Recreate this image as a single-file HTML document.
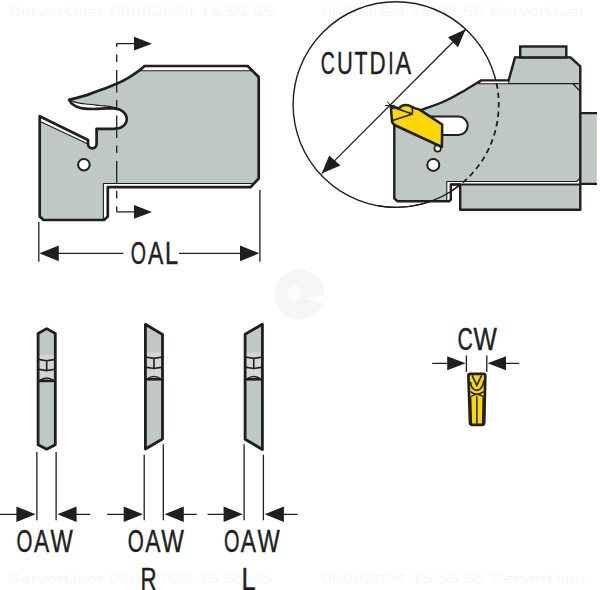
<!DOCTYPE html>
<html><head><meta charset="utf-8"><style>
html,body{margin:0;padding:0;background:#fff;width:600px;height:590px;overflow:hidden}
svg{display:block}
text{font-family:"Liberation Sans",sans-serif;fill:#1f1f1f;stroke:#1f1f1f;stroke-width:0.45px}
</style></head><body>
<svg width="600" height="590" viewBox="0 0 600 590">
<g fill="#f4f4f4" stroke="none">
<text x="8" y="15.5" font-size="13" textLength="266" lengthAdjust="spacingAndGlyphs" style="stroke:none;fill:#f7f7f7">ServerUser 06082024 15:55:55</text>
<text x="321" y="15.5" font-size="13" textLength="264" lengthAdjust="spacingAndGlyphs" style="stroke:none;fill:#f7f7f7">06082024 15:55:55 ServerUser</text>
<text x="8" y="583" font-size="13" textLength="264" lengthAdjust="spacingAndGlyphs" style="stroke:none;fill:#f7f7f7">ServerUser 06082024 15:55:55</text>
<text x="321" y="583" font-size="13" textLength="266" lengthAdjust="spacingAndGlyphs" style="stroke:none;fill:#f7f7f7">06082024 15:55:55 ServerUser</text>
<path d="M324.5,295.4 A25,25 0 1 0 323.0,303.1 L305.5,298.5 Z" fill="#f6f6f6"/><ellipse cx="294.5" cy="292.5" rx="6" ry="8" fill="#fbfbfb"/>
</g>

<path d="M144.3,66 L247.7,66 L258.7,77 L258.7,178.5 L250.5,187.2 L107.8,187.2 L107.8,216.5 L104,220 L43.6,220 L39.7,216.4 L39.7,116.2 L88,140 L88,144.1 A4.3,4.3 0 0 0 96.6,144.1 L96.6,128.8 L114,128.8 C115.1,128.6 118.6,128.5 120.4,127.7 C122.2,126.9 124.0,125.8 125.1,124.2 C126.2,122.6 126.9,120.2 126.8,118.3 C126.7,116.4 125.7,114.5 124.5,113.1 C123.3,111.6 121.5,110.4 119.8,109.6 C118.0,108.8 115.0,108.6 114.0,108.4 C112.6,108.4 109.1,108.3 105.8,108.4 C102.5,108.5 98.1,109.0 94.2,109.0 C90.3,109.0 85.4,108.8 82.5,108.4 C79.6,108.0 78.5,107.5 76.7,106.7 C75.0,105.9 73.3,104.9 72.0,103.8 C70.7,102.6 69.6,100.5 69.1,99.9 C70.2,99.6 73.1,98.9 76.0,98.1 C78.9,97.3 82.2,96.6 86.7,95.1 C91.2,93.6 98.3,90.9 103.3,89.0 C108.3,87.1 112.5,85.7 116.7,83.8 C120.9,81.9 125.0,79.8 128.7,77.6 C132.4,75.4 136.1,72.8 138.7,70.9 C141.3,69.0 143.4,67.0 144.3,66.2 Z" fill="#fff" stroke="none"/>
<path d="M138.7,70.8 L252.5,70.8 L258.7,77 L258.7,178.5 L254,183.5 L103.4,183.5 L103.4,218 L102,220.5 L43.6,220.5 L39.7,216.4 L39.7,121.2 L86.9,143.5 L88,144 L88,144.1 A4.3,4.3 0 0 0 96.6,144.1 L96.6,128.8 L114,128.8 C115.1,128.6 118.6,128.5 120.4,127.7 C122.2,126.9 124.0,125.8 125.1,124.2 C126.2,122.6 126.9,120.2 126.8,118.3 C126.7,116.4 125.7,114.5 124.5,113.1 C123.3,111.6 121.2,110.5 119.8,109.6 C118.4,108.7 116.9,108.1 116.3,107.8 C115.5,107.6 114.4,107.1 111.7,106.7 C109.0,106.3 103.9,105.9 100.0,105.5 C96.1,105.1 92.2,104.8 88.3,104.3 C84.4,103.8 79.8,103.3 76.7,102.6 C73.6,101.9 70.9,100.7 69.7,100.3 C70.8,99.9 73.2,99.0 76.0,98.1 C78.8,97.2 82.2,96.6 86.7,95.1 C91.2,93.6 98.3,90.9 103.3,89.0 C108.3,87.1 112.5,85.7 116.7,83.8 C120.9,81.9 125.0,79.8 128.7,77.6 C132.4,75.4 137.0,72.0 138.7,70.9 Z" fill="#bfc8c3" stroke="#1f1f1f" stroke-width="1.1" stroke-linejoin="round"/>
<path d="M144.3,66 L247.7,66 L258.7,77 L258.7,178.5 L250.5,187.2 L107.8,187.2 L107.8,216.5 L104,220 L43.6,220 L39.7,216.4 L39.7,116.2 L88,140 L88,144.1 A4.3,4.3 0 0 0 96.6,144.1 L96.6,128.8 L114,128.8 C115.1,128.6 118.6,128.5 120.4,127.7 C122.2,126.9 124.0,125.8 125.1,124.2 C126.2,122.6 126.9,120.2 126.8,118.3 C126.7,116.4 125.7,114.5 124.5,113.1 C123.3,111.6 121.5,110.4 119.8,109.6 C118.0,108.8 115.0,108.6 114.0,108.4 C112.6,108.4 109.1,108.3 105.8,108.4 C102.5,108.5 98.1,109.0 94.2,109.0 C90.3,109.0 85.4,108.8 82.5,108.4 C79.6,108.0 78.5,107.5 76.7,106.7 C75.0,105.9 73.3,104.9 72.0,103.8 C70.7,102.6 69.6,100.5 69.1,99.9 C70.2,99.6 73.1,98.9 76.0,98.1 C78.9,97.3 82.2,96.6 86.7,95.1 C91.2,93.6 98.3,90.9 103.3,89.0 C108.3,87.1 112.5,85.7 116.7,83.8 C120.9,81.9 125.0,79.8 128.7,77.6 C132.4,75.4 136.1,72.8 138.7,70.9 C141.3,69.0 143.4,67.0 144.3,66.2 Z" fill="none" stroke="#1f1f1f" stroke-width="2.7" stroke-linejoin="round"/>
<circle cx="83.9" cy="164.7" r="5.8" fill="#fff" stroke="#1f1f1f" stroke-width="2"/>
<path d="M116.7,43.6 V211.9" stroke="#1f1f1f" stroke-width="1.3" fill="none" stroke-dasharray="22.5 7.5 7.5 8" stroke-dashoffset="19"/>
<path d="M116.7,43.6 H136 M116.7,211.9 H136" stroke="#1f1f1f" stroke-width="1.3"/>
<path d="M134,36.8 L152,43.7 L134,50.6 Z M134,204.9 L152,211.9 L134,218.8 Z" fill="#1f1f1f"/>


<path d="M38.8,222 V261.7 M259.9,190 V261.7 M58,253.3 H123.2 M179,253.3 H241" stroke="#1f1f1f" stroke-width="1.3"/>
<path d="M39.4,253.3 L58.8,245.4 L58.8,261.3 Z M259.4,253.3 L240,245.4 L240,261.3 Z" fill="#1f1f1f"/>


<circle cx="395.9" cy="104.6" r="102.8" fill="none" stroke="#1f1f1f" stroke-width="1.4"/>
<path d="M392,121 L419.7,110.6 C423.9,109.0 437.4,104.4 445.0,101.0 C452.6,97.6 458.9,93.6 465.0,90.2 C471.1,86.8 478.6,82.0 481.3,80.4 L508.7,80.3 L515,57.4 L570.5,57.4 L580.3,66.4 L580.3,209.7 L460.2,209.7 L460.2,184.5 L450.8,184.5 L450.8,199.7 L449.2,201.3 L397.5,201.3 L394.3,198.3 L394.3,125 Z" fill="#fff"/>
<path d="M392,121 L419.7,110.6 C423.9,109.0 437.4,104.4 445.0,101.0 C452.6,97.6 458.9,93.6 465.0,90.2 C471.1,86.8 478.6,82.0 481.3,80.4 L478.7,83.7 L508.7,83.7 L508.7,80.3 L515,57.4 L570.5,57.4 L580.3,66.4 L580.3,178 L576.5,181.5 L446.8,181.5 L446.8,201.3 L397.5,201.3 L394.3,198.3 L394.3,125 Z" fill="#bfc8c3" stroke="#1f1f1f" stroke-width="1.1" stroke-linejoin="round"/>
<rect x="460.2" y="184.5" width="120.1" height="25.2" fill="#bfc8c3"/>
<rect x="580.3" y="113.2" width="16.5" height="70.7" fill="#bfc8c3"/>
<path d="M580.3,113.2 H597 M580.3,183.9 H597" stroke="#1f1f1f" stroke-width="2.2"/>
<path d="M392,121 L419.7,110.6 C423.9,109.0 437.4,104.4 445.0,101.0 C452.6,97.6 458.9,93.6 465.0,90.2 C471.1,86.8 478.6,82.0 481.3,80.4 L508.7,80.3 L515,57.4 L570.5,57.4 L580.3,66.4 L580.3,209.7 L460.2,209.7 L460.2,184.5 L450.8,184.5 L450.8,199.7 L449.2,201.3 L397.5,201.3 L394.3,198.3 L394.3,125 Z" fill="none" stroke="#1f1f1f" stroke-width="2.4" stroke-linejoin="round"/>
<path d="M508.7,83.6 H580 M573,83.8 L579.8,91" stroke="#1f1f1f" stroke-width="1.3" fill="none"/>
<path d="M450.8,184.6 H580.3" stroke="#1f1f1f" stroke-width="2"/>
<rect x="520.2" y="46.5" width="46.1" height="10.9" fill="#bfc8c3" stroke="#1f1f1f" stroke-width="2.4"/>
<path d="M420,116.6 H458.5 A9.2,9.2 0 0 1 458.5,135 H420 Z" fill="#fff" stroke="#1f1f1f" stroke-width="2"/>
<circle cx="437.6" cy="148.4" r="3.2" fill="#fff" stroke="#1f1f1f" stroke-width="1.6"/>
<circle cx="433.3" cy="164.9" r="6" fill="#fff" stroke="#1f1f1f" stroke-width="2"/>
<path d="M496.5,83.2 A102.8,102.8 0 0 1 460.6,184.5" fill="none" stroke="#1f1f1f" stroke-width="1.8" stroke-dasharray="5.5 4"/>
<path d="M460.6,184.5 A102.8,102.8 0 0 1 378.0,205.8" fill="none" stroke="#1f1f1f" stroke-width="1.4"/>
<path d="M390.8,106.6 L399.2,108.2 C401,106 403,105 405.2,105 C408,104.8 410.5,105.6 412.4,107.2 L415.4,108.4 L419.6,109.6 L442.2,124.5 L441.9,147 L394.5,125 C392.6,124 392,122 391.9,119.8 Z" fill="#fdd700" stroke="#1f1f1f" stroke-width="2.5" stroke-linejoin="round"/>
<path d="M390.8,106.6 L412.4,114.1 L392.6,120.4 M412.4,114.1 L412.4,106.8" fill="none" stroke="#1f1f1f" stroke-width="1.6" stroke-linejoin="round"/>
<path d="M321.7,173.6 L465.7,29.3" stroke="#1f1f1f" stroke-width="1.3"/>
<path d="M387.5,101.5 L393,109.5 M385,105.4 L395,105.4" stroke="#1f1f1f" stroke-width="1"/>
<path d="M465.7,29.3 L448,37.3 L458,47.3 Z M321.7,173.6 L329.2,155.5 L340.4,165.4 Z" fill="#1f1f1f"/>

<path d="M46.7,328.6 L55.3,333.5 L55.3,444.7 L46.7,449.2 L38.1,444.7 L38.1,333.5 Z" fill="#bfc8c3"/><rect x="38.1" y="354.9" width="17.199999999999996" height="25.700000000000045" fill="#d2d7d4"/><path d="M38.1,359.4 L46.7,360.79999999999995 L55.3,359.4 M46.7,360.79999999999995 V370.59999999999997 M38.1,369.2 L46.7,370.59999999999997 L55.3,369.2" fill="none" stroke="#1f1f1f" stroke-width="1.6"/><path d="M39.6,380.6 Q46.7,375.6 53.8,380.6 Z" fill="#eef0ee" stroke="#1f1f1f" stroke-width="1.5"/><path d="M38.1,380.90000000000003 H55.3" stroke="#1f1f1f" stroke-width="2.6"/><path d="M46.7,328.6 L55.3,333.5 L55.3,444.7 L46.7,449.2 L38.1,444.7 L38.1,333.5 Z" fill="none" stroke="#1f1f1f" stroke-width="2.8" stroke-linejoin="round"/>
<path d="M145.4,324.3 L162.5,334.5 L162.5,439 L145.4,449 Z" fill="#bfc8c3"/><rect x="145.4" y="352.5" width="17.099999999999994" height="26.5" fill="#d2d7d4"/><path d="M145.4,357 L153.95,358.4 L162.5,357 M153.95,358.4 V368.5 M145.4,367.1 L153.95,368.5 L162.5,367.1" fill="none" stroke="#1f1f1f" stroke-width="1.6"/><path d="M146.9,379 Q153.95,374 161.0,379 Z" fill="#eef0ee" stroke="#1f1f1f" stroke-width="1.5"/><path d="M145.4,379.3 H162.5" stroke="#1f1f1f" stroke-width="2.6"/><path d="M145.4,324.3 L162.5,334.5 L162.5,439 L145.4,449 Z" fill="none" stroke="#1f1f1f" stroke-width="2.8" stroke-linejoin="round"/>
<path d="M262.4,324.2 L245.1,334.3 L245.1,439.2 L262.4,449.5 Z" fill="#bfc8c3"/><rect x="245.1" y="352.5" width="17.299999999999983" height="26.5" fill="#d2d7d4"/><path d="M245.1,357 L253.75,358.4 L262.4,357 M253.75,358.4 V368.5 M245.1,367.1 L253.75,368.5 L262.4,367.1" fill="none" stroke="#1f1f1f" stroke-width="1.6"/><path d="M246.6,379 Q253.75,374 260.9,379 Z" fill="#eef0ee" stroke="#1f1f1f" stroke-width="1.5"/><path d="M245.1,379.3 H262.4" stroke="#1f1f1f" stroke-width="2.6"/><path d="M262.4,324.2 L245.1,334.3 L245.1,439.2 L262.4,449.5 Z" fill="none" stroke="#1f1f1f" stroke-width="2.8" stroke-linejoin="round"/>
<path d="M36.9,452.1 V520.3 M56.1,452.1 V520.3 M0,514.3 H16.9 M76.1,514.3 H90.3" stroke="#1f1f1f" stroke-width="1.3"/><path d="M35.6,514.3 L16.4,506.49999999999994 L16.4,522.0999999999999 Z M57.4,514.3 L76.6,506.49999999999994 L76.6,522.0999999999999 Z" fill="#1f1f1f"/>
<path d="M144.2,454.8 V520.3 M163.3,444.3 V520.3 M107.1,514.3 H124.19999999999999 M183.3,514.3 H196.7" stroke="#1f1f1f" stroke-width="1.3"/><path d="M142.89999999999998,514.3 L123.69999999999999,506.49999999999994 L123.69999999999999,522.0999999999999 Z M164.60000000000002,514.3 L183.8,506.49999999999994 L183.8,522.0999999999999 Z" fill="#1f1f1f"/>
<path d="M244.1,444.3 V520.3 M263.4,454.8 V520.3 M207.6,514.3 H224.1 M283.4,514.3 H297.5" stroke="#1f1f1f" stroke-width="1.3"/><path d="M242.79999999999998,514.3 L223.6,506.49999999999994 L223.6,522.0999999999999 Z M264.7,514.3 L283.9,506.49999999999994 L283.9,522.0999999999999 Z" fill="#1f1f1f"/>

<path d="M466.4,355.6 V371.9 M486.8,355.6 V371.9 M432.2,363.3 H448 M505,363.3 H519.2" stroke="#1f1f1f" stroke-width="1.3"/>
<path d="M465.6,363.3 L447.2,356.3 L447.2,370.3 Z M487.6,363.3 L506,356.3 L506,370.3 Z" fill="#1f1f1f"/>
<path d="M470.3,373.9 H483.4 Q485.3,373.9 485.3,375.8 L484.2,422.5 Q484.2,424.9 481.8,424.9 H472.4 Q470,424.9 470,422.5 L468.4,375.8 Q468.4,373.9 470.3,373.9 Z" fill="#fdd700" stroke="#1f1f1f" stroke-width="2.7"/>
<path d="M472.1,375.4 L476.8,385.4 L481.6,375.4" fill="none" stroke="#1f1f1f" stroke-width="1.6"/>
<path d="M470.5,381.7 Q471,389.5 476.8,390.4 Q482.8,389.5 483.7,380.6" fill="none" stroke="#1f1f1f" stroke-width="1.6"/>
<path d="M470.5,391.7 Q473.5,394 476.8,394.3 Q480.2,394 483.7,391.7 M470.5,397 Q473.5,394.6 476.8,394.3 Q480.2,394.6 483.7,397" fill="none" stroke="#1f1f1f" stroke-width="1.5"/>
<path d="M476.8,396.4 V423.7 M470.6,397.5 L471.4,423.7 M483.2,397.5 L482.6,423.7" fill="none" stroke="#1f1f1f" stroke-width="1.5"/>

<text transform="translate(130.80,264.38) scale(0.633,1)" font-size="30.89">O</text>
<text transform="translate(147.98,264.38) scale(0.745,1)" font-size="30.89">A</text>
<text transform="translate(164.90,264.38) scale(0.760,1)" font-size="30.89">L</text>
<text transform="translate(320.74,73.88) scale(0.629,1)" font-size="30.89">C</text>
<text transform="translate(336.93,73.88) scale(0.710,1)" font-size="30.89">U</text>
<text transform="translate(354.45,73.88) scale(0.690,1)" font-size="30.89">T</text>
<text transform="translate(369.59,73.88) scale(0.724,1)" font-size="30.89">D</text>
<text transform="translate(388.19,73.88) scale(0.625,1)" font-size="30.89">I</text>
<text transform="translate(395.48,73.88) scale(0.759,1)" font-size="30.89">A</text>
<text transform="translate(16.56,552.08) scale(0.652,1)" font-size="31.32">O</text>
<text transform="translate(33.88,552.08) scale(0.729,1)" font-size="31.32">A</text>
<text transform="translate(50.42,552.08) scale(0.755,1)" font-size="31.32">W</text>
<text transform="translate(127.85,552.17) scale(0.660,1)" font-size="31.18">O</text>
<text transform="translate(145.28,552.17) scale(0.733,1)" font-size="31.18">A</text>
<text transform="translate(161.32,552.17) scale(0.769,1)" font-size="31.18">W</text>
<text transform="translate(223.88,552.08) scale(0.640,1)" font-size="31.03">O</text>
<text transform="translate(240.78,552.08) scale(0.736,1)" font-size="31.03">A</text>
<text transform="translate(257.42,552.08) scale(0.759,1)" font-size="31.03">W</text>
<text transform="translate(140.49,590.08) scale(0.719,1)" font-size="31.03">R</text>
<text transform="translate(241.53,590.08) scale(0.822,1)" font-size="31.03">L</text>
<text transform="translate(457.55,349.77) scale(0.694,1)" font-size="30.60">C</text>
<text transform="translate(473.52,349.77) scale(0.808,1)" font-size="30.60">W</text>
</svg>
</body></html>
